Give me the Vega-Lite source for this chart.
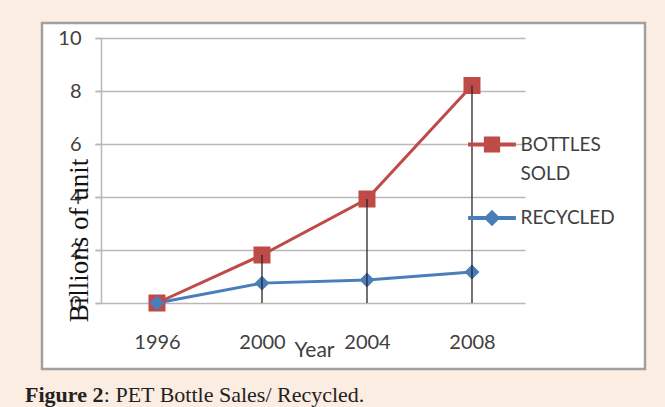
{
  "$schema": "https://vega.github.io/schema/vega-lite/v6.json",
  "width": 603,
  "height": 346,
  "autosize": {"type": "none"},
  "padding": {"left": 42, "top": 23, "right": 20, "bottom": 38},
  "background": "#fcede3",
  "view": {"fill": "white", "stroke": "#a0a0a0", "strokeWidth": 2.5},
  "title": {
    "text": "Figure 2",
    "orient": "bottom",
    "anchor": "start",
    "frame": "group",
    "offset": 16,
    "dx": -17,
    "font": "Liberation Serif",
    "fontSize": 22,
    "fontWeight": "bold",
    "color": "#222222",
    "lineHeight": 22,
    "subtitle": "\u200b\u00a0\u00a0\u00a0\u00a0\u00a0\u00a0\u00a0\u00a0\u00a0\u00a0\u00a0\u00a0\u00a0\u00a0\u200a: PET Bottle Sales/ Recycled.",
    "subtitleFont": "Liberation Serif",
    "subtitleFontSize": 22,
    "subtitleFontWeight": "normal",
    "subtitleColor": "#222222",
    "subtitleLineHeight": 22,
    "subtitlePadding": -22
  },
  "data": {"values": [
    {"year": "1996", "series": "BOTTLES SOLD", "value": 0},
    {"year": "2000", "series": "BOTTLES SOLD", "value": 1.81},
    {"year": "2004", "series": "BOTTLES SOLD", "value": 3.92},
    {"year": "2008", "series": "BOTTLES SOLD", "value": 8.21},
    {"year": "1996", "series": "RECYCLED", "value": 0},
    {"year": "2000", "series": "RECYCLED", "value": 0.75},
    {"year": "2004", "series": "RECYCLED", "value": 0.87},
    {"year": "2008", "series": "RECYCLED", "value": 1.17}
  ]},
  "encoding": {
    "x": {
      "field": "year", "type": "ordinal",
      "scale": {"type": "point", "range": [53, 483], "padding": 0.5476, "align": 0.539},
      "axis": {
        "orient": "bottom", "offset": -66, "domain": false, "ticks": false, "tickSize": 0, "grid": false,
        "labelFont": "Lato", "labelFontSize": 20, "labelColor": "#404040", "labelPadding": 29, "labelAngle": 0,
        "title": "Year", "titleFont": "Lato", "titleFontSize": 21, "titleFontWeight": "normal", "titleColor": "#404040",
        "titleX": 272, "titleY": 53, "titleBaseline": "alphabetic"
      }
    },
    "y": {
      "field": "value", "type": "quantitative",
      "scale": {"domain": [0, 10], "range": [280, 15], "nice": false},
      "axis": {
        "orient": "left", "offset": -59, "values": [0, 2, 4, 6, 8, 10],
        "grid": true, "gridColor": "#b8b8b8", "gridWidth": 1.5,
        "domain": true, "domainColor": "#b8b8b8", "domainWidth": 1.5,
        "ticks": true, "tickSize": 6, "tickColor": "#b8b8b8", "tickWidth": 1.5,
        "labelFont": "Lato", "labelFontSize": 20, "labelColor": "#404040", "labelPadding": 14,
        "title": "Billions of unit", "titleFont": "Liberation Serif", "titleFontSize": 27, "titleFontWeight": "normal",
        "titleColor": "#111111", "titleAngle": -90, "titleX": -14, "titleY": 217, "titleAlign": "center", "titleBaseline": "alphabetic"
      }
    },
    "color": {
      "field": "series", "type": "nominal",
      "scale": {"domain": ["BOTTLES SOLD", "RECYCLED"], "range": ["#be4b48", "#4a7ebb"]},
      "legend": {
        "orient": "none", "legendX": 440.5, "legendY": 112, "title": null, "padding": 0,
        "symbolSize": 150, "symbolStrokeWidth": 4,
        "labelFont": "Lato", "labelFontSize": 19, "labelColor": "#404040", "labelOffset": 19,
        "labelBaseline": "middle",
        "labelExpr": "datum.value == 'BOTTLES SOLD' ? ['BOTTLES', 'SOLD'] : datum.label",
        "rowPadding": 20.5,
        "encoding": {
          "symbols": {
            "strokeWidth": {"value": 4},
            "stroke": {"value": {"expr": "scale('color', datum.value)"}},
            "fill": {"value": {"expr": "scale('color', datum.value)"}}
          },
          "labels": {"lineHeight": {"value": 29.5}}
        }
      }
    }
  },
  "layer": [
    {
      "mark": {"type": "line", "strokeWidth": 3}
    },
    {
      "mark": {"type": "point", "filled": true, "size": 289, "opacity": 1, "strokeWidth": 0},
      "encoding": {
        "shape": {"field": "series", "type": "nominal",
          "scale": {"domain": ["BOTTLES SOLD", "RECYCLED"],
            "range": ["M-3.9,0H3.9M-1,-1H1V1H-1Z", "M-3.9,0H3.9M0,-0.88L0.88,0L0,0.88L-0.88,0Z"]},
          "legend": {
            "orient": "none", "legendX": 440.5, "legendY": 112, "title": null, "padding": 0,
            "symbolSize": 150, "symbolStrokeWidth": 4,
            "labelFont": "Lato", "labelFontSize": 19, "labelColor": "#404040", "labelOffset": 19,
            "labelBaseline": "middle",
            "labelExpr": "datum.value == 'BOTTLES SOLD' ? ['BOTTLES', 'SOLD'] : datum.label",
            "rowPadding": 20.5,
            "encoding": {
              "symbols": {
                "strokeWidth": {"value": 4},
                "stroke": {"value": {"expr": "scale('color', datum.value)"}},
                "fill": {"value": {"expr": "scale('color', datum.value)"}}
              },
              "labels": {"lineHeight": {"value": 29.5}}
            }
          }
        }
      }
    },
    {
      "transform": [{"filter": "datum.series == 'BOTTLES SOLD'"}],
      "mark": {"type": "rule", "strokeWidth": 1.3},
      "encoding": {"y2": {"datum": 0}, "color": {"value": "#262626"}}
    }
  ]
}
